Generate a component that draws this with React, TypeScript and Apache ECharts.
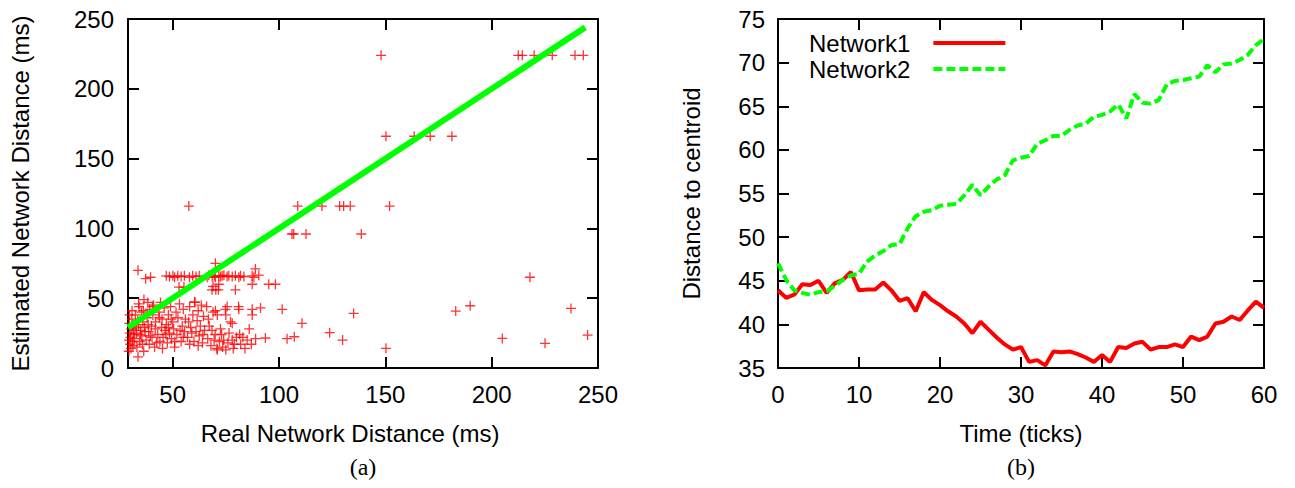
import React, { useEffect, useRef } from "react";
import * as echarts from "echarts";

// (a) scatter: [real network distance, estimated network distance] in ms
const scatterPoints: [number, number][] = [
  // sparse points
  [148, 224], [212.5, 224], [214.4, 224], [220, 224], [228.5, 224], [239.2, 224], [243.1, 224],
  [150.3, 166], [163.6, 166], [171.1, 166], [181.3, 166],
  [57.6, 116], [108.8, 116], [120.2, 116], [128.5, 116], [130.4, 116], [133.5, 116], [152, 116],
  [106.1, 96], [106.9, 96], [112.7, 96], [138.7, 96],
  [218, 65], [110.8, 32], [107.2, 22.4], [123.8, 25.3], [129.9, 20], [135.1, 39.1], [150.3, 14.1],
  [183.1, 40.8], [189.9, 44.6], [205, 21.2], [225.1, 17.7], [237.3, 42.7], [245.1, 23.6],
  // row near 66
  [37.3, 64], [39.6, 65], [47, 66], [48.5, 65.5], [50.1, 66], [50.9, 65], [52.4, 66], [54, 65.5],
  [55.5, 66], [57.9, 65], [59.4, 66], [61, 65.5], [62.5, 66], [66.2, 65], [67, 66.5], [68.6, 65.5],
  [69.6, 66], [70.1, 65], [71.7, 66], [72.5, 65.5], [73.3, 66], [74.1, 66.5], [75.6, 65.5], [76.4, 66],
  [78, 65.5], [79.5, 66], [81.1, 65], [81.9, 66], [83.5, 65.5], [87.4, 66], [88.2, 65], [90.5, 66.5],
  [33.7, 70], [70.1, 75], [88.9, 71],
  // row near 56-60
  [53, 58], [55.3, 58], [68.5, 56], [70.3, 56], [71.5, 56], [71.7, 60], [79.5, 56], [87.4, 60],
  [95.2, 60], [98.3, 60], [69, 58.5], [60.3, 47.4],
  // middle band 38-48
  [34.2, 44], [35.3, 40], [38.3, 47], [39.2, 42], [40.7, 38], [41, 45], [43.5, 40], [44.3, 47],
  [46, 43], [48, 38], [49, 44], [51.6, 40], [53.2, 46], [55, 42], [58, 44], [59.5, 38], [60.5, 47],
  [62, 41], [63.5, 45], [64.5, 37], [66, 44], [69, 40], [70.1, 41], [74.8, 42], [75, 38], [75.6, 44],
  [81.1, 42], [81, 44], [87.4, 42], [87.4, 38], [91.3, 43], [101.5, 42], [71, 38],
  [34, 46], [36.5, 49], [40.5, 44], [36.2, 41],
  // dense low band
  [29.5, 20], [29.8, 25], [30, 17], [30.2, 22], [30.5, 28], [30.8, 35], [31, 19], [31.2, 30],
  [31.5, 24], [29.6, 32], [30.4, 14], [31.8, 27], [29.4, 12], [29.7, 38], [30.9, 41], [31.3, 16],
  [32, 21], [32.5, 38], [33, 25], [33.2, 15], [33.7, 8], [34, 31], [34.5, 19], [35, 27], [35.5, 23],
  [36, 33], [36.4, 12], [36.8, 29], [32.8, 29], [33.6, 34], [34.8, 24], [35.8, 17],
  [37.5, 20], [38, 36], [38.7, 26], [39, 17], [40, 30], [40.3, 22], [41.5, 15], [41.8, 28], [42, 33], [43, 24],
  [37, 26], [38.5, 31], [39.5, 23], [42.5, 18], [43.8, 36],
  [44, 19], [44.8, 29], [45, 35], [45.5, 22], [46.4, 27], [47, 31], [47.5, 18], [48.5, 25], [49.5, 21],
  [50, 33], [50.5, 28], [50.9, 15], [45.2, 14], [46.8, 24], [48, 29], [49.3, 35],
  [52, 24], [52.5, 36], [54, 19], [54.5, 30], [55.6, 26], [56, 35], [57, 22], [51, 19], [53.5, 27],
  [55, 22], [57.5, 33],
  [58.5, 29], [60, 19], [61, 26], [61.5, 34], [62.5, 23], [63, 30], [64, 18], [65, 27], [59, 25],
  [62, 16], [64.2, 24], [58, 17],
  [66.5, 21], [67.2, 30], [68, 16], [70, 24], [70.8, 14], [72, 19], [71, 13], [69.5, 20], [66.8, 35],
  [68.5, 27], [72.5, 28],
  [73, 24], [73.5, 15], [74, 20], [76, 18], [76.5, 25], [77.2, 33], [78, 20], [78.5, 14], [80, 22], [75, 13],
  [79, 17], [81.5, 24],
  [82, 17], [83, 22], [84, 14], [85, 20], [86, 28], [89, 21], [93.6, 21.5], [78, 32], [103.8, 21], [87, 17],
];

// (a) ideal estimate line (estimated = real)
const idealLine: [number, number][] = [[29, 29], [244, 244]];

const xTicksA = [50, 100, 150, 200, 250];

// (b) distance to centroid per tick 0..60
const network1 = [
  43.9, 43.05, 43.4, 44.6, 44.5, 45.0, 43.6, 44.7, 45.1, 46.0,
  43.9, 44.0, 44.0, 44.8, 43.9, 42.7, 43.0, 41.5, 43.7, 42.8,
  42.2, 41.5, 40.9, 40.1, 39.0, 40.3, 39.4, 38.5, 37.7, 37.1,
  37.4, 35.7, 35.9, 35.3, 36.9, 36.8, 36.9, 36.6, 36.2, 35.7,
  36.5, 35.7, 37.4, 37.3, 37.8, 38.0, 37.1, 37.4, 37.4, 37.7,
  37.4, 38.6, 38.2, 38.6, 40.1, 40.3, 40.9, 40.5, 41.6, 42.6,
  41.9,
];
const network2 = [
  47.0, 45.1, 43.9, 43.6, 43.4, 43.7, 43.8, 44.4, 45.1, 45.6,
  45.8, 47.2, 47.9, 48.4, 49.1, 49.2, 51.0, 52.4, 52.9, 53.1,
  53.6, 53.7, 53.8, 54.8, 56.0, 54.8, 55.8, 56.6, 57.1, 58.8,
  59.1, 59.3, 60.7, 61.1, 61.6, 61.6, 62.3, 62.8, 63.0, 63.8,
  64.0, 64.4, 65.2, 63.6, 66.4, 65.4, 65.3, 65.7, 67.5, 67.9,
  68.0, 68.2, 68.4, 69.7, 68.9, 69.8, 69.9, 70.3, 70.9, 72.0,
  72.7,
];

const FONT = "'Liberation Sans', Arial, Helvetica, sans-serif";
const SERIF = "'Liberation Serif', 'Times New Roman', serif";
const BLACK = "#000";

function frameAxis(extra: any) {
  return {
    type: "value",
    axisLine: { show: true, onZero: false, lineStyle: { color: BLACK, width: 2 } },
    axisTick: { show: true, inside: true, length: 11, lineStyle: { color: BLACK, width: 2 } },
    splitLine: { show: false },
    ...extra,
  };
}

export default function App() {
  const ref = useRef<HTMLDivElement>(null);
  useEffect(() => {
    if (!ref.current) return;
    const chart = echarts.init(ref.current, undefined, { renderer: "svg" });
    const labelStyle = { color: BLACK, fontSize: 24, fontFamily: FONT };
    const nameStyle = { color: BLACK, fontSize: 24, fontFamily: FONT };
    const option: any = {
      animation: false,
      backgroundColor: "#fff",
      textStyle: { fontFamily: FONT },
      grid: [
        { left: 128, top: 19, width: 470, height: 349 },
        { left: 778, top: 19, width: 486, height: 349 },
      ],
      xAxis: [
        frameAxis({
          gridIndex: 0, min: 29, max: 250, position: "bottom",
          axisTick: { show: true, inside: true, length: 11, customValues: xTicksA, lineStyle: { color: BLACK, width: 2 } },
          axisLabel: { ...labelStyle, margin: 14, customValues: xTicksA },
          name: "Real Network Distance (ms)", nameLocation: "middle", nameGap: 53,
          nameTextStyle: { ...nameStyle, padding: [0, 26, 0, 0] },
        }),
        frameAxis({
          gridIndex: 0, min: 29, max: 250, position: "top",
          axisTick: { show: true, inside: true, length: 11, customValues: xTicksA, lineStyle: { color: BLACK, width: 2 } },
          axisLabel: { show: false },
        }),
        frameAxis({
          gridIndex: 1, min: 0, max: 60, interval: 10, position: "bottom",
          axisLabel: { ...labelStyle, margin: 14 },
          name: "Time (ticks)", nameLocation: "middle", nameGap: 53, nameTextStyle: nameStyle,
        }),
        frameAxis({
          gridIndex: 1, min: 0, max: 60, interval: 10, position: "top",
          axisLabel: { show: false },
        }),
      ],
      yAxis: [
        frameAxis({
          gridIndex: 0, min: 0, max: 250, interval: 50, position: "left",
          axisLabel: { ...labelStyle, margin: 14 },
          name: "Estimated Network Distance (ms)", nameLocation: "middle", nameGap: 96, nameRotate: 90,
          nameTextStyle: nameStyle,
        }),
        frameAxis({
          gridIndex: 0, min: 0, max: 250, interval: 50, position: "right",
          axisLabel: { show: false },
        }),
        frameAxis({
          gridIndex: 1, min: 35, max: 75, interval: 5, position: "left",
          axisLabel: { ...labelStyle, margin: 13 },
          name: "Distance to centroid", nameLocation: "middle", nameGap: 75, nameRotate: 90,
          nameTextStyle: nameStyle,
        }),
        frameAxis({
          gridIndex: 1, min: 35, max: 75, interval: 5, position: "right",
          axisLabel: { show: false },
        }),
      ],
      legend: {
        data: [
          { name: "Network1", icon: "path://M0,0h72v4h-72z" },
          {
            name: "Network2",
            icon: "path://M0,0h9v4h-9zM13,0h9v4h-9zM26,0h9v4h-9zM39,0h9v4h-9zM52,0h9v4h-9zM65,0h7v4h-7z",
          },
        ],
        orient: "vertical",
        left: 804,
        top: 26,
        align: "right",
        itemWidth: 72,
        itemHeight: 4,
        itemGap: 2,
        textStyle: { color: BLACK, fontSize: 24, fontFamily: FONT, padding: [0, 18, 0, 0] },
      },
      series: [
        {
          type: "scatter", xAxisIndex: 0, yAxisIndex: 0, data: scatterPoints,
          symbol: "path://M0,5L10,5M5,0L5,10", symbolSize: 10,
          itemStyle: { color: "#ff0000", borderColor: "#ff0000", borderWidth: 1.3 },
          silent: true,
        },
        {
          type: "line", xAxisIndex: 0, yAxisIndex: 0, data: idealLine,
          symbol: "none", showSymbol: false, silent: true,
          lineStyle: { color: "#00ff00", width: 6 },
          itemStyle: { color: "#00ff00" },
        },
        {
          name: "Network1", type: "line", xAxisIndex: 2, yAxisIndex: 2,
          data: network1.map((v, i) => [i, v]),
          symbol: "none", showSymbol: false,
          lineStyle: { color: "#ff0000", width: 4 },
          itemStyle: { color: "#ff0000" },
        },
        {
          name: "Network2", type: "line", xAxisIndex: 2, yAxisIndex: 2,
          data: network2.map((v, i) => [i, v]),
          symbol: "none", showSymbol: false,
          lineStyle: { color: "#00ff00", width: 4, type: [9, 4] },
          itemStyle: { color: "#00ff00" },
        },
      ],
      graphic: [
        {
          type: "text", x: 363, y: 467,
          style: { text: "(a)", fill: BLACK, font: `24px ${SERIF}`, textAlign: "center", textVerticalAlign: "middle" },
        },
        {
          type: "text", x: 1021, y: 467,
          style: { text: "(b)", fill: BLACK, font: `24px ${SERIF}`, textAlign: "center", textVerticalAlign: "middle" },
        },
      ],
    };
    chart.setOption(option);
    return () => chart.dispose();
  }, []);
  return (
    <div
      ref={ref}
      style={{ position: "fixed", left: 0, top: 0, width: 1295, height: 488 }}
    />
  );
}
